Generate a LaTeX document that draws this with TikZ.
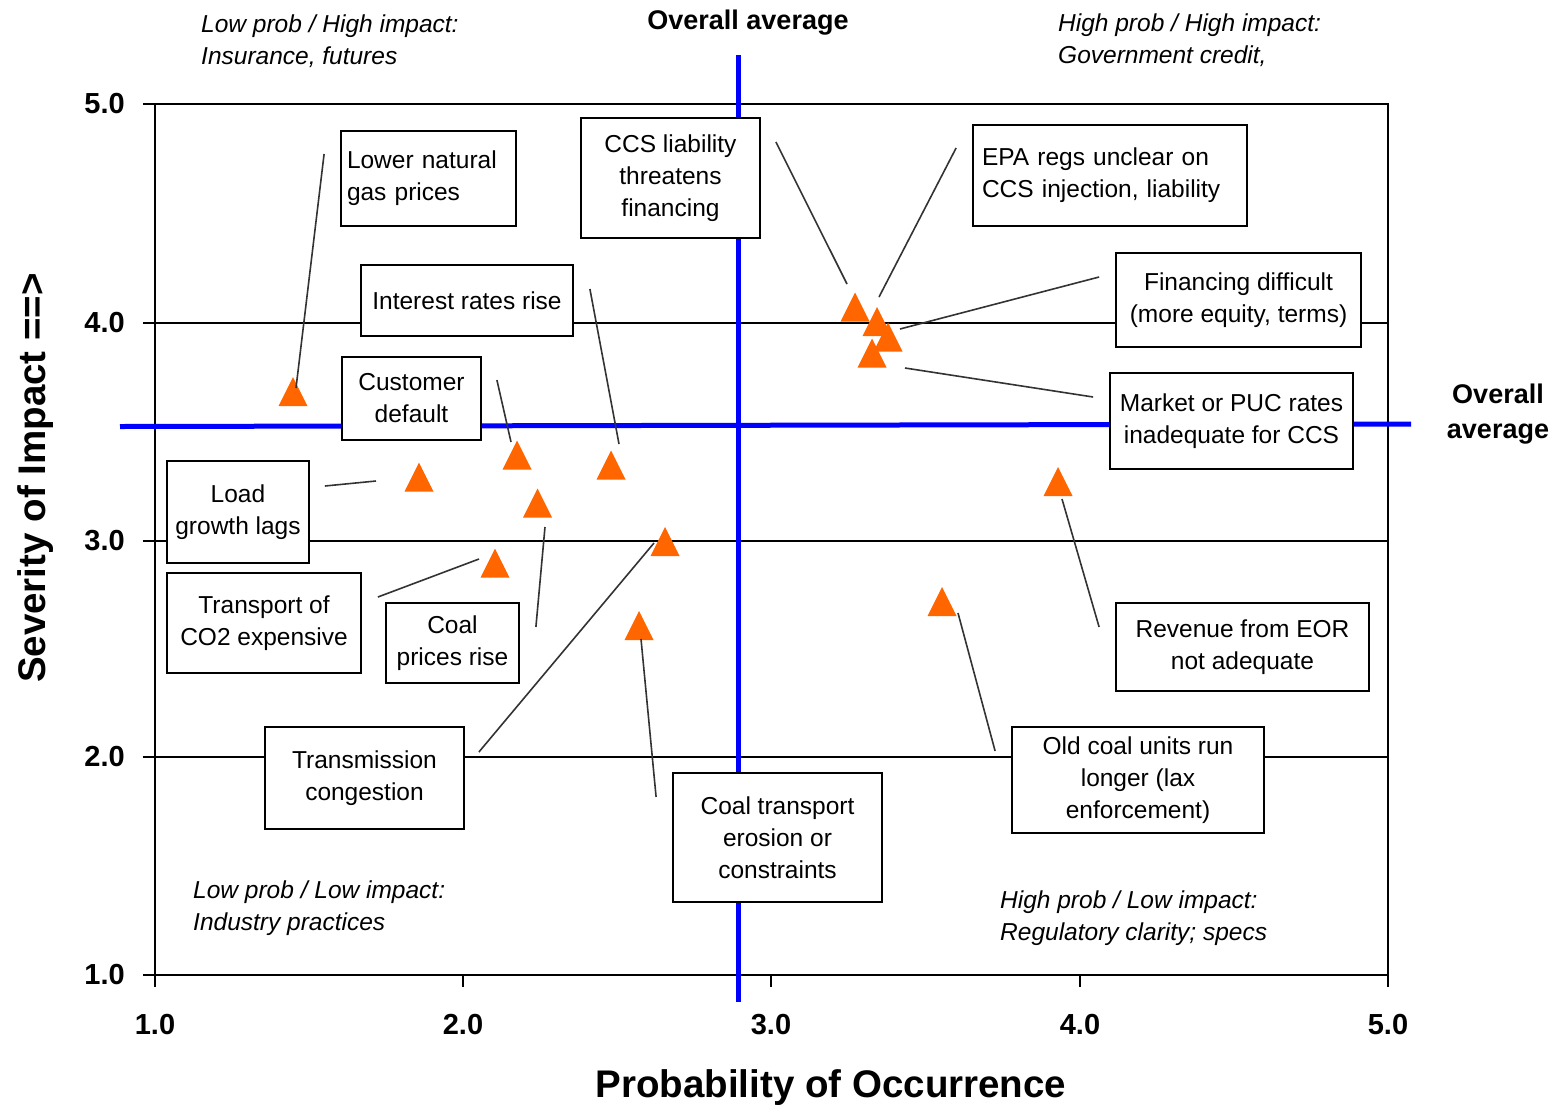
\documentclass[tikz,border=0pt]{standalone}
\usepackage{fontspec}
\setmainfont{Liberation Sans}
\usetikzlibrary{positioning}
\definecolor{ptorange}{RGB}{255,102,0}
\definecolor{avgblue}{RGB}{0,0,255}
\tikzstyle{box} = [rectangle, draw=black, line width=1.8pt, fill=white, inner sep=0pt, align=center, font=\fontsize{24.5}{32}\selectfont]
\tikzstyle{lbox} = [box, align=left]
\tikzstyle{lead} = [line width=1.6pt, black!80]
\tikzstyle{grid} = [line width=1.8pt, black]
\tikzstyle{avg} = [line width=5pt, avgblue]
\tikzstyle{pt} = [fill=ptorange]
\tikzstyle{corner} = [anchor=north west, inner sep=0pt, align=left, font=\fontsize{24.5}{32}\selectfont\itshape]
\tikzstyle{tick} = [inner sep=0pt, font=\fontsize{29}{32}\selectfont\bfseries]
\tikzstyle{avglabel} = [inner sep=0pt, align=center, font=\fontsize{27}{35}\selectfont\bfseries]
\tikzstyle{axtitle} = [inner sep=0pt, font=\fontsize{38.5}{40}\selectfont\bfseries]

\begin{document}
\begin{tikzpicture}[x=1pt, y=-1pt]
\useasboundingbox (0,0) rectangle (1556,1104);
% frame, grid and ticks
\draw [grid] (155,104) rectangle (1388,975);
\foreach \y in {323,541,757} \draw [grid] (155,\y) -- (1388,\y);
\foreach \y in {104,323,541,757,975} \draw [grid] (143,\y) -- (155,\y);
\foreach \x in {155,463,771,1080,1388} \draw [grid] (\x,975) -- (\x,987);
\foreach \y/\t in {104/5.0,323/4.0,541/3.0,757/2.0,975/1.0}
  \node (ly\y) [tick, anchor=east] at (125,\y) {\t};
\foreach \x/\t in {155/1.0,463/2.0,771/3.0,1080/4.0,1388/5.0}
  \node (lx\x) [tick, anchor=base] at (\x,1034) {\t};
% averages
\draw [avg] (738,55) -- (738,1002);
\draw [avg] (120,426.5) -- (1411,424);
% data points
\foreach \n/\x/\y in {p1/293/391.5, p2/855/307, p3/877/321.5, p4/888/337, p5/872/353,
    p6/611/465, p7/517/455, p8/419/477, p9/495/563, p10/537.5/503,
    p11/665/541.5, p12/639/625.5, p13/942/601.5, p14/1058/481.5}{
  \coordinate (\n) at (\x,\y);
  \fill [pt] ([shift={(-14.5,14.5)}]\n) -- ([shift={(14.5,14.5)}]\n) -- ([shift={(0,-14.5)}]\n) -- cycle;
}
% labels
\node (b1) [lbox, inner xsep=6pt, text width=163pt, minimum height=95pt] at (428.5,178.5) {Lower natural\\gas prices};
\node (b2) [box, minimum width=179pt, minimum height=120pt] at (670.5,178) {CCS liability\\threatens\\financing};
\node (b3) [lbox, inner xsep=9pt, text width=256pt, minimum height=101pt] at (1110,175.5) {EPA regs unclear on\\CCS injection, liability};
\node (b4) [box, minimum width=245pt, minimum height=94pt] at (1238.5,300) {Financing difficult\\(more equity, terms)};
\node (b5) [box, minimum width=243pt, minimum height=96pt] at (1231.5,421) {Market or PUC rates\\inadequate for CCS};
\node (b6) [box, minimum width=212pt, minimum height=71pt] at (467,300.5) {Interest rates rise};
\node (b7) [box, minimum width=139pt, minimum height=83pt] at (411.5,398.5) {Customer\\default};
\node (b8) [box, minimum width=142pt, minimum height=102pt] at (238,512) {Load\\growth lags};
\node (b9) [box, minimum width=194pt, minimum height=100pt] at (264,623) {Transport of\\CO2 expensive};
\node (b10) [box, minimum width=133pt, minimum height=80pt] at (452.5,643) {Coal\\prices rise};
\node (b11) [box, minimum width=199pt, minimum height=102pt] at (364.5,778) {Transmission\\congestion};
\node (b12) [box, minimum width=209pt, minimum height=129pt] at (777.5,837.5) {Coal transport\\erosion or\\constraints};
\node (b13) [box, minimum width=252pt, minimum height=106pt] at (1138,780) {Old coal units run\\longer (lax\\enforcement)};
\node (b14) [box, minimum width=253pt, minimum height=88pt] at (1242.5,647) {Revenue from EOR\\not adequate};
% leader lines
\draw [lead] ([shift={(-16,-24.5)}]b1.west) -- ([shift={(3,-3.5)}]p1);
\draw [lead] ([shift={(15,-36)}]b2.east) -- ([shift={(-8,-23)}]p2);
\draw [lead] ([shift={(-16,-27.5)}]b3.west) -- ([shift={(2,-24.5)}]p3);
\draw [lead] ([shift={(-16,-23)}]b4.west) -- ([shift={(12,-8)}]p4);
\draw [lead] ([shift={(-16,-24)}]b5.west) -- ([shift={(33,15)}]p5);
\draw [lead] ([shift={(16,-11.5)}]b6.east) -- ([shift={(8,-21)}]p6);
\draw [lead] ([shift={(15,-18.5)}]b7.east) -- ([shift={(-6,-13)}]p7);
\draw [lead] ([shift={(15,-26)}]b8.east) -- ([shift={(-43,4)}]p8);
\draw [lead] ([shift={(16,-26)}]b9.east) -- ([shift={(-16,-4)}]p9);
\draw [lead] ([shift={(16,-16)}]b10.east) -- ([shift={(7.5,24)}]p10);
\draw [lead] ([shift={(14,-26)}]b11.east) -- ([shift={(-11,1.5)}]p11);
\draw [lead] ([shift={(-16,-40.5)}]b12.west) -- ([shift={(2,13.5)}]p12);
\draw [lead] ([shift={(-16,-29)}]b13.west) -- ([shift={(16,11.5)}]p13);
\draw [lead] ([shift={(-16,-20)}]b14.west) -- ([shift={(4,17.5)}]p14);
% quadrant notes and titles
\node (q1) [corner] at (201,15) {Low prob / High impact:\\Insurance, futures};
\node (q2) [corner] at (1058,14) {High prob / High impact:\\Government credit,};
\node (q3) [corner] at (193,881) {Low prob / Low impact:\\Industry practices};
\node (q4) [corner] at (1000,891) {High prob / Low impact:\\Regulatory clarity; specs};
\node (avgtop) [avglabel, anchor=base] at (748,29) {Overall average};
\node (avgright) [avglabel, anchor=north] at (1498,384) {Overall\\average};
\node (xtitle) [axtitle, anchor=base] at (831,1097) {Probability of Occurrence};
\node (ytitle) [axtitle, anchor=base, rotate=90] at (45,478) {Severity of Impact ==>};
\end{tikzpicture}
\end{document}
